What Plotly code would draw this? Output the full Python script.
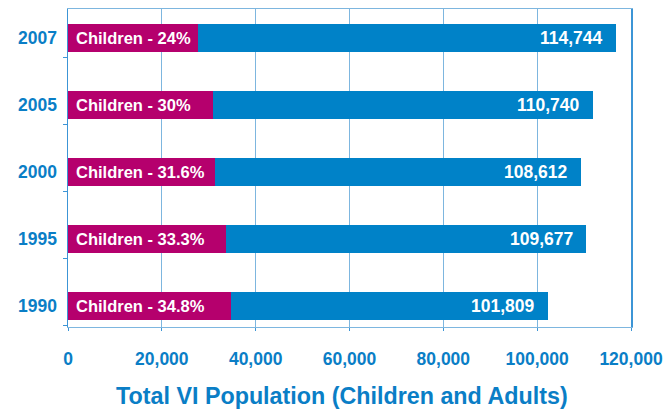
import plotly.graph_objects as go

years = ["1990", "1995", "2000", "2005", "2007"]
children_pct = ["34.8%", "33.3%", "31.6%", "30%", "24%"]
total_labels = ["101,809", "109,677", "108,612", "110,740", "114,744"]
# bar lengths as drawn in the picture
children = [34800, 33700, 31400, 30800, 27800]
totals = [102300, 110400, 109300, 112000, 116700]
adults = [t - c for t, c in zip(totals, children)]
x_ticks = [0, 20000, 40000, 60000, 80000, 100000, 120000]
x_tick_text = ["0", "20,000", "40,000", "60,000", "80,000", "100,000", "120,000"]

BLUE = "#0082C8"
MAGENTA = "#B5006D"
TEXT_BLUE = "#0A7EC6"
GRID = "#7DB6DF"
FONT = "Liberation Sans"

ypos = list(range(len(years)))

fig = go.Figure()
fig.add_trace(go.Bar(y=ypos, x=children, orientation="h", marker_color=MAGENTA,
                     marker_line_width=0, width=0.42, hoverinfo="skip"))
fig.add_trace(go.Bar(y=ypos, x=adults, orientation="h", marker_color=BLUE,
                     marker_line_width=0, width=0.42, hoverinfo="skip"))

for i in ypos:
    fig.add_annotation(x=0, y=i, xref="x", yref="y", text="<b>Children - %s</b>" % children_pct[i],
                       showarrow=False, xanchor="left", xshift=6,
                       font=dict(family=FONT, size=16.5, color="white"))
    fig.add_annotation(x=totals[i], y=i, xref="x", yref="y", text="<b>%s</b>" % total_labels[i],
                       showarrow=False, xanchor="right", xshift=-11,
                       font=dict(family=FONT, size=17.5, color="white"))

fig.add_annotation(x=0.487, y=-0.2166, xref="paper", yref="paper",
                   text="<b>Total VI Population (Children and Adults)</b>",
                   showarrow=False, xanchor="center", yanchor="middle",
                   font=dict(family=FONT, size=23.3, color=TEXT_BLUE))

fig.update_layout(
    width=664, height=409, barmode="stack", showlegend=False,
    margin=dict(l=68, r=33, t=9, b=82.3),
    plot_bgcolor="white", paper_bgcolor="white",
    xaxis=dict(range=[0, 120000], tickvals=x_ticks,
               ticktext=["<b>%s</b>" % t for t in x_tick_text],
               automargin=False, ticklabeloverflow="allow",
               showgrid=True, gridcolor=GRID, gridwidth=1,
               showline=True, linecolor=GRID, linewidth=1, mirror=True,
               ticks="outside", ticklen=3, tickcolor="#3C95D6",
               ticklabelstandoff=13, zeroline=False,
               tickfont=dict(family=FONT, size=17.5, color=TEXT_BLUE)),
    yaxis=dict(range=[-0.309, 4.433], tickvals=ypos, ticktext=["<b>%s</b>" % y for y in years],
               automargin=False,
               showgrid=False, zeroline=False,
               showline=True, linecolor="#3C95D6", linewidth=1.5, mirror=True,
               ticks="", ticklabelstandoff=6,
               minor=dict(tick0=0.716, dtick=1, ticks="outside", ticklen=4,
                          tickcolor="#3C95D6", showgrid=False),
               tickfont=dict(family=FONT, size=17.5, color=TEXT_BLUE)),
)
fig.write_html("out.html", config={"displayModeBar": False, "staticPlot": True},
               post_script="document.body.style.margin='0';"
                           "document.documentElement.style.overflow='hidden';")
